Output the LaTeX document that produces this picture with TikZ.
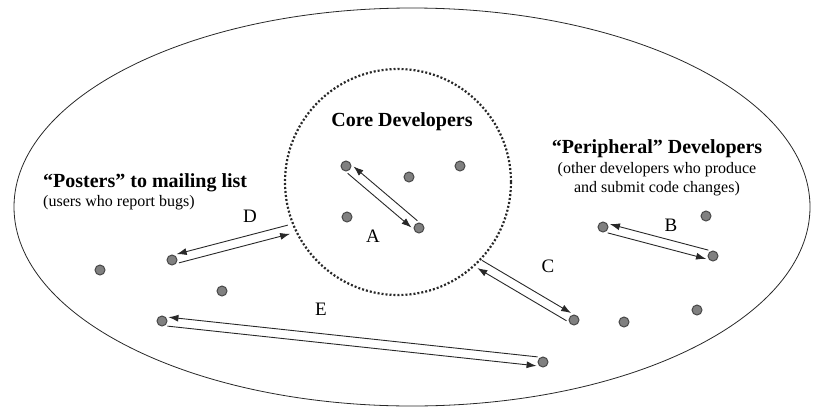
\documentclass[tikz,border=0pt]{standalone}
\usepackage{fontspec}
\setmainfont{Liberation Serif}
\usetikzlibrary{calc,arrows.meta}
\definecolor{dotfill}{RGB}{128,128,128}
\definecolor{dotrim}{RGB}{72,72,72}
\definecolor{ink}{RGB}{40,40,40}

\begin{document}
\begin{tikzpicture}[x=1pt,y=-1pt,
    dot/.style={circle,inner sep=0pt,minimum size=10pt,fill=dotfill,draw=dotrim,line width=1pt},
    flow/.style={draw=ink,line width=0.9pt,-{Latex[length=10pt,width=7pt]},shorten <=6pt,shorten >=6pt},
    group/.style={font=\fontsize{20}{24}\selectfont\bfseries,inner sep=0pt},
    note/.style={font=\fontsize{16}{18.7}\selectfont,inner sep=0pt,align=center},
    tag/.style={font=\fontsize{19}{22}\selectfont,inner sep=0pt}]
    \useasboundingbox (0,0) rectangle (814,410);
    % whole community and the core
    \draw[ink,line width=0.8pt] (412,207) ellipse (398 and 199);
    \node[circle,minimum size=226pt,inner sep=0pt,draw=ink,line width=2.2pt,
          dash pattern=on 2pt off 2pt] (core) at (398,182) {};
    \coordinate (dIn) at ($(core.center)!113pt!(core.204)$);
    \coordinate (cIn) at ($(core.center)!110pt!(core.314)$);

    % groups
    \node[group,anchor=base] (coreT) at (402,126) {Core Developers};
    \node[group,anchor=base west] (postT) at (43,187) {“Posters” to mailing list};
    \node[note,anchor=base west] (postN) at (43,206) {(users who report bugs)};
    \node[group,anchor=base] (perT) at (657,153) {“Peripheral” Developers};
    \node[note,anchor=base] (perN) at (657,192) {(other developers who produce\\and submit code changes)};

    % people
    \node[dot] (dev1) at (346,166) {};
    \node[dot] (dev2) at (409,177) {};
    \node[dot] (dev3) at (460,166) {};
    \node[dot] (dev4) at (347,217) {};
    \node[dot] (dev5) at (419,228) {};
    \node[dot] (per1) at (603,227) {};
    \node[dot] (per2) at (706,216) {};
    \node[dot] (per3) at (713,256) {};
    \node[dot] (per4) at (574,320) {};
    \node[dot] (per5) at (624,322) {};
    \node[dot] (per6) at (697,310) {};
    \node[dot] (per7) at (543,362) {};
    \node[dot] (post1) at (100,270) {};
    \node[dot] (post2) at (172,260) {};
    \node[dot] (post3) at (222,291) {};
    \node[dot] (post4) at (162,321) {};

    % exchanges
    \foreach \s/\t/\a/\b in {dev1/dev5/-90/90, dev5/dev1/-90/90,
        per1/per3/-90/90, per3/per1/-90/90,
        cIn/per4/90/-90, per4/cIn/90/-90,
        post2/dIn/-90/90, dIn/post2/-90/90,
        post4/per7/-90/90, per7/post4/-90/90}
        \draw[flow] ($(\s)!4.5pt!\a:(\t)$) -- ($(\t)!4.5pt!\b:(\s)$);

    \node[tag,anchor=base] (tA) at (373,242) {A};
    \node[tag,anchor=base] (tB) at (671,231) {B};
    \node[tag,anchor=base] (tC) at (548,272) {C};
    \node[tag,anchor=base] (tD) at (250,222) {D};
    \node[tag,anchor=base] (tE) at (321,315) {E};
\end{tikzpicture}
\end{document}
